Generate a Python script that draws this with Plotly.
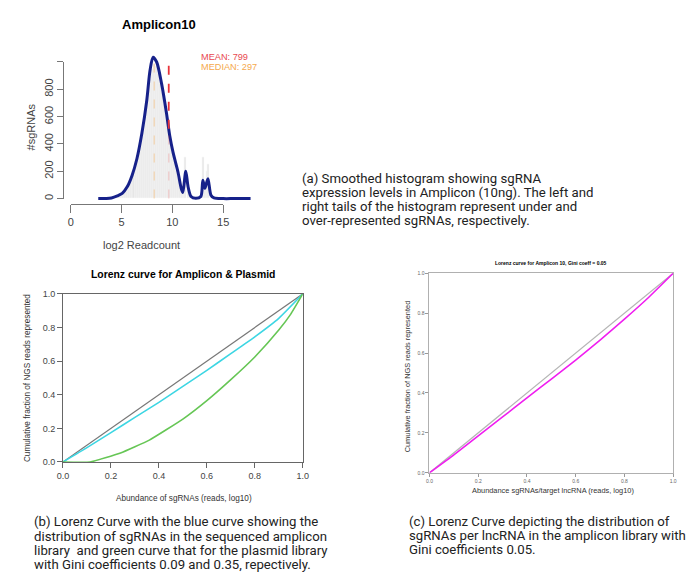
import numpy as np
import plotly.graph_objects as go

W, H = 688, 579

# ---------------- data ----------------
# (a) smoothed histogram of log2 read counts (Amplicon10)
dens_x = [2.7, 3.5, 4.0, 4.58, 5.06, 5.55, 6.03, 6.5, 7.0, 7.48, 7.8, 8.1, 8.45, 8.94,
          9.42, 9.74, 10.06, 10.55, 10.87, 11.03, 11.32, 11.55, 11.84, 12.3, 12.8,
          13.0, 13.2, 13.5, 13.8, 14.1, 15.0, 16.0, 17.0, 17.7]
dens_y = [0, 1, 5, 20, 38, 86, 170, 290, 480, 720, 940, 1035, 1000, 840,
          625, 460, 340, 195, 75, 45, 200, 85, 15, 2, 15,
          135, 75, 145, 25, 5, 0, 0, 0, 0]

hist_x = [4.6, 4.8, 5.0, 5.2, 5.4, 5.6, 5.8, 6.0, 6.2, 6.4, 6.6, 6.8, 7.0, 7.2, 7.4, 7.6,
          7.8, 8.0, 8.2, 8.4, 8.6, 8.8, 9.0, 9.2, 9.4, 9.6, 9.8, 10.0, 10.2, 10.4, 10.6,
          10.8, 11.0, 11.2, 11.3, 11.6, 11.8, 12.0, 12.2, 12.4, 12.6, 12.8, 13.0, 13.2,
          13.4, 13.5, 13.8, 14.0]
hist_y = [12, 18, 30, 45, 65, 90, 120, 160, 200, 245, 300, 370, 450, 540, 650, 760,
          870, 950, 980, 970, 920, 860, 780, 700, 610, 510, 420, 340, 270, 210, 150,
          80, 50, 150, 302, 70, 15, 4, 0, 0, 4, 15, 302, 100, 200, 254, 30, 8]

mean_reads = 799
median_reads = 297

# (b) Lorenz curves, amplicon & plasmid
lor_b_x = [0, 0.1, 0.2, 0.3, 0.4, 0.5, 0.6, 0.7, 0.8, 0.9, 1.0]
amplicon_y = [0, 0.085, 0.175, 0.265, 0.355, 0.45, 0.545, 0.645, 0.745, 0.855, 1.0]
plasmid_x = [0, 0.113, 0.24, 0.36, 0.5, 0.6, 0.7, 0.8, 0.9, 0.95, 1.0]
plasmid_y = [0, 0, 0.053, 0.13, 0.255, 0.365, 0.49, 0.625, 0.785, 0.88, 1.0]

# (c) Lorenz curve, sgRNAs per lncRNA
lor_c_x = [0, 0.1, 0.2, 0.3, 0.4, 0.5, 0.6, 0.7, 0.8, 0.9, 1.0]
lncrna_y = [0, 0.09, 0.185, 0.28, 0.375, 0.47, 0.565, 0.665, 0.77, 0.88, 1.0]

equality = [0, 1]
tick01 = [0, 0.2, 0.4, 0.6, 0.8, 1.0]
tick01_text = ["0.0", "0.2", "0.4", "0.6", "0.8", "1.0"]

# ---------------- helpers ----------------
def fx(p):
    return p / W

def fy(p):
    return 1 - p / H

# panel (a) pixel mapping: x=0 -> 66px, x=15 -> 221px ; y=0 -> 197px, y=1000 -> 58px
ax_px0, ax_scale = 66.0, (221 - 66) / 15.0
ay_px0, ay_scale = 197.0, (197 - 58) / 1000.0

def val_x(px):
    return (px - ax_px0) / ax_scale

def val_y(py):
    return (ay_px0 - py) / ay_scale

A_L, A_R, A_T, A_B = 40, 275, 40, 206

SANS = "Liberation Sans, Arial, sans-serif"
AXC = "#444444"

fig = go.Figure()

# histogram bars
fig.add_trace(go.Bar(x=hist_x, y=hist_y, width=0.2, marker=dict(color="#e6e6e6", line=dict(color="#fafafa", width=0.6)),
                     xaxis="x", yaxis="y", showlegend=False, hoverinfo="skip"))
# density curve
fig.add_trace(go.Scatter(x=dens_x, y=dens_y, mode="lines", line=dict(color="#16218a", width=3, shape="spline", smoothing=0.8),
                         xaxis="x", yaxis="y", showlegend=False))
# decor axes dummy
fig.add_trace(go.Scatter(x=[None], y=[None], xaxis="x4", yaxis="y4", showlegend=False, hoverinfo="skip"))

# (b)
fig.add_trace(go.Scatter(x=equality, y=equality, mode="lines", line=dict(color="#777777", width=1.2),
                         xaxis="x2", yaxis="y2", showlegend=False))
fig.add_trace(go.Scatter(x=lor_b_x, y=amplicon_y, mode="lines", line=dict(color="#3dd6e3", width=1.6, shape="spline", smoothing=0.5),
                         xaxis="x2", yaxis="y2", showlegend=False))
fig.add_trace(go.Scatter(x=plasmid_x, y=plasmid_y, mode="lines", line=dict(color="#66c655", width=1.6, shape="spline", smoothing=0.4),
                         xaxis="x2", yaxis="y2", showlegend=False))
# (c)
fig.add_trace(go.Scatter(x=equality, y=equality, mode="lines", line=dict(color="#b4b4b4", width=1.2),
                         xaxis="x3", yaxis="y3", showlegend=False))
fig.add_trace(go.Scatter(x=lor_c_x, y=lncrna_y, mode="lines", line=dict(color="#f01ef0", width=1.6, shape="spline", smoothing=0.5),
                         xaxis="x3", yaxis="y3", showlegend=False))

mean_log2 = float(np.log2(mean_reads))
median_log2 = float(np.log2(median_reads))
top_val = max(dens_y)
curve_at_mean = float(np.interp(mean_log2, dens_x, dens_y))

shapes = [
    dict(type="line", xref="x", yref="y", x0=median_log2, x1=median_log2, y0=0, y1=top_val,
         line=dict(color="rgba(246,176,90,0.35)", width=1.5, dash="dash"), layer="above"),
    dict(type="line", xref="x", yref="y", x0=mean_log2, x1=mean_log2, y0=0, y1=curve_at_mean,
         line=dict(color="rgba(232,60,60,0.18)", width=1.5, dash="dash"), layer="above"),
    dict(type="line", xref="x", yref="y", x0=mean_log2, x1=mean_log2, y0=curve_at_mean, y1=top_val,
         line=dict(color="#e8323a", width=1.8, dash="dash"), layer="above"),
]

hidden = dict(visible=False, fixedrange=True)

layout = dict(
    width=W, height=H, margin=dict(l=0, r=0, t=0, b=0),
    paper_bgcolor="white", plot_bgcolor="rgba(0,0,0,0)",
    showlegend=False, bargap=0,
    xaxis=dict(domain=[fx(A_L), fx(A_R)], range=[val_x(A_L), val_x(A_R)], anchor="y", **hidden),
    yaxis=dict(domain=[fy(A_B), fy(A_T)], range=[val_y(A_B), val_y(A_T)], anchor="x", **hidden),
    xaxis4=dict(domain=[fx(66), fx(221)], range=[0, 15], anchor="free", position=fy(202),
                showline=True, linecolor="#777777", linewidth=1, ticks="outside", ticklen=8,
                tickcolor="#777777", tickvals=[0, 5, 10, 15], tickfont=dict(family=SANS, size=11, color=AXC),
                showgrid=False, zeroline=False, fixedrange=True),
    yaxis4=dict(domain=[fy(197), fy(58)], range=[0, 1000], anchor="free", position=fx(58),
                showline=True, linecolor="#777777", linewidth=1, ticks="outside", ticklen=6,
                tickcolor="#777777", tickvals=[0, 200, 400, 600, 800, 1000],
                ticktext=["0", "200", "400", "600", "800", ""], tickangle=-90,
                tickfont=dict(family=SANS, size=11, color=AXC),
                showgrid=False, zeroline=False, fixedrange=True),
    xaxis2=dict(domain=[fx(58), fx(302)], range=[0, 1], anchor="y2", showline=True, mirror=True,
                linecolor="#666666", linewidth=1, ticks="outside", ticklen=5, tickcolor="#666666",
                tickvals=tick01, ticktext=tick01_text, tickfont=dict(family=SANS, size=9, color=AXC),
                showgrid=False, zeroline=False),
    yaxis2=dict(domain=[fy(465), fy(294)], range=[0, 1], anchor="x2", showline=True, mirror=True,
                linecolor="#666666", linewidth=1, ticks="outside", ticklen=5, tickcolor="#666666",
                tickvals=tick01, ticktext=tick01_text, tickfont=dict(family=SANS, size=9, color=AXC),
                showgrid=False, zeroline=False),
    xaxis3=dict(domain=[fx(431), fx(679)], range=[0, 1], anchor="y3", showline=True, mirror=True,
                linecolor="#b0b0b0", linewidth=1, ticks="outside", ticklen=3, tickcolor="#999999",
                tickvals=tick01, ticktext=tick01_text, tickfont=dict(family=SANS, size=5, color="#666666"),
                showgrid=False, zeroline=False),
    yaxis3=dict(domain=[fy(476), fy(273)], range=[0, 1], anchor="x3", showline=True, mirror=True,
                linecolor="#b0b0b0", linewidth=1, ticks="outside", ticklen=3, tickcolor="#999999",
                tickvals=tick01, ticktext=tick01_text, tickfont=dict(family=SANS, size=5, color="#666666"),
                showgrid=False, zeroline=False),
    shapes=shapes,
)
fig.update_layout(**layout)

ann = []

def add_text(text, x, y, size, color="#000000", family=SANS, xanchor="center", yanchor="middle", angle=0):
    ann.append(dict(text=text, x=fx(x), y=fy(y), xref="paper", yref="paper", showarrow=False,
                    xanchor=xanchor, yanchor=yanchor, textangle=angle, borderpad=0,
                    font=dict(family=family, size=size, color=color)))

# panel (a)
add_text("<b>Amplicon10</b>", 156, 20, 13)
add_text(f"MEAN: {mean_reads}", 197, 52.5, 9.2, color="#e8484f", xanchor="left")
add_text(f"MEDIAN: {median_reads}", 197, 63.5, 9.2, color="#f5a94c", xanchor="left")
add_text("#sgRNAs", 25, 124, 11, color=AXC, angle=-90)
add_text("log2 Readcount", 138, 244, 11, color=AXC)

# panel (b)
add_text("<b>Lorenz curve for Amplicon &amp; Plasmid</b>", 180, 274, 10.4)
add_text("Cumulative fraction of NGS reads represented", 22, 380, 8.2, color="#333333", angle=-90)
add_text("Abundance of sgRNAs (reads, log10)", 181, 502, 8.2, color="#333333")

# panel (c)
add_text("<b>Lorenz curve for Amplicon 10, Gini coeff = 0.05</b>", 555, 263, 5)
add_text("Cumulative fraction of NGS reads represented", 409, 378, 7.4, color="#333333", angle=-90)
add_text("Abundance sgRNAs/target lncRNA (reads, log10)", 557, 494, 7.4, color="#333333")

# captions
CAP = "Roboto, sans-serif"
CAP_SIZE = 13.2
cap_a = ["(a) Smoothed histogram showing sgRNA",
         "expression levels in Amplicon (10ng). The left and",
         "right tails of the histogram represent under and",
         "over-represented sgRNAs, respectively."]
for i, line in enumerate(cap_a):
    add_text(line, 300, [176.5, 190.7, 204.9, 219.1][i], CAP_SIZE, color="#222222", family=CAP, xanchor="left")

cap_b = ["(b) Lorenz Curve with the blue curve showing the",
         "distribution of sgRNAs in the sequenced amplicon",
         "library  and green curve that for the plasmid library",
         "with Gini coefficients 0.09 and 0.35, repectively."]
for i, line in enumerate(cap_b):
    add_text(line, 27, [526, 540.5, 555, 569][i], CAP_SIZE, color="#222222", family=CAP, xanchor="left")

cap_c = ["(c) Lorenz Curve depicting the distribution of",
         "sgRNAs per lncRNA in the amplicon library with",
         "Gini coefficients 0.05."]
for i, line in enumerate(cap_c):
    add_text(line, 409, [526, 540.2, 554.4][i], CAP_SIZE, color="#222222", family=CAP, xanchor="left")

fig.update_layout(annotations=ann)
fig.write_html("out.html")
